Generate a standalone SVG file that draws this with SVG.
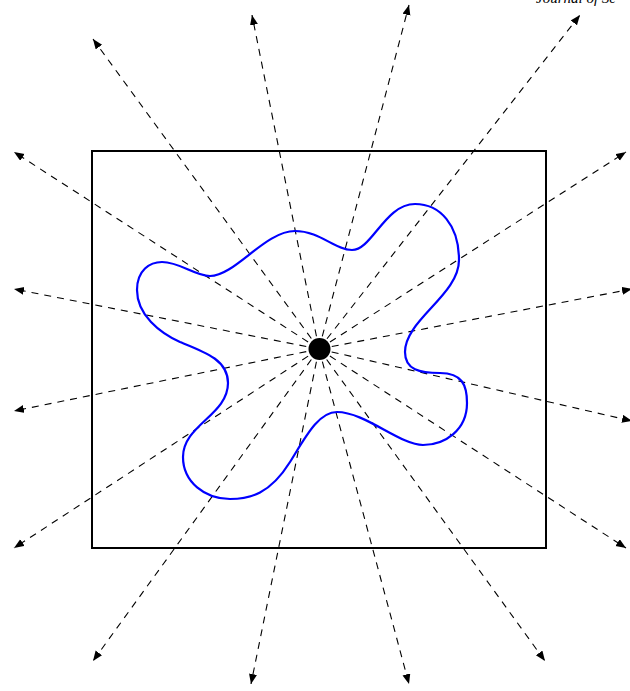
<svg xmlns="http://www.w3.org/2000/svg" width="630" height="691" viewBox="0 0 630 691">
<defs>
<marker id="arr" markerUnits="userSpaceOnUse" markerWidth="12" markerHeight="10" refX="10" refY="4" orient="auto">
<path d="M0,0 L10,4 L0,8 Z" fill="#000"/>
</marker>
<style>
.ray{stroke:#000;stroke-width:1.1;stroke-dasharray:7,6;fill:none;marker-end:url(#arr)}
.box{fill:none;stroke:#000;stroke-width:2}
.blob{fill:none;stroke:#0000ff;stroke-width:2.2}
.hdr{font-family:"Liberation Serif",serif;font-style:italic;font-size:15px;fill:#000}
</style>
</defs>
<rect width="630" height="691" fill="#fff"/>
<text class="hdr" x="536" y="3">Journal of Sc</text>
<g id="frame"><rect class="box" x="92" y="151" width="454" height="397"/></g>
<g id="rays">
<line class="ray" x1="319" y1="349" x2="252" y2="15"/>
<line class="ray" x1="319" y1="349" x2="409" y2="5"/>
<line class="ray" x1="319" y1="349" x2="580" y2="15"/>
<line class="ray" x1="319" y1="349" x2="93" y2="39"/>
<line class="ray" x1="319" y1="349" x2="14" y2="152"/>
<line class="ray" x1="319" y1="349" x2="14" y2="289"/>
<line class="ray" x1="319" y1="349" x2="14" y2="411"/>
<line class="ray" x1="319" y1="349" x2="14" y2="548"/>
<line class="ray" x1="319" y1="349" x2="93" y2="661"/>
<line class="ray" x1="319" y1="349" x2="251" y2="684"/>
<line class="ray" x1="319" y1="349" x2="409" y2="684"/>
<line class="ray" x1="319" y1="349" x2="545" y2="661"/>
<line class="ray" x1="319" y1="349" x2="626" y2="548"/>
<line class="ray" x1="319" y1="349" x2="632" y2="421"/>
<line class="ray" x1="319" y1="349" x2="632" y2="289"/>
<line class="ray" x1="319" y1="349" x2="626" y2="152"/>
</g>
<g id="region">
<path class="blob" d="M415,204 C440,204 459,225 459,260 C459,295 405,320 405,352 C405,370 420,373 440,373 C462,373 467,385 467,403 C467,430 445,445 423,445 C400,445 365,412 337,412 C318,412 305,438 290,462 C270,494 250,499 230,499 C205,499 183,482 183,457 C183,425 228,415 228,383 C228,360 205,352 180,342 C160,333 137,315 137,290 C137,270 150,262 162,262 C180,262 195,276 210,276 C235,276 265,231 295,231 C320,231 335,250 352,250 C372,250 385,204 415,204 Z"/>
</g>
<g id="source"><circle cx="319.5" cy="349" r="11" fill="#000"/></g>
</svg>
